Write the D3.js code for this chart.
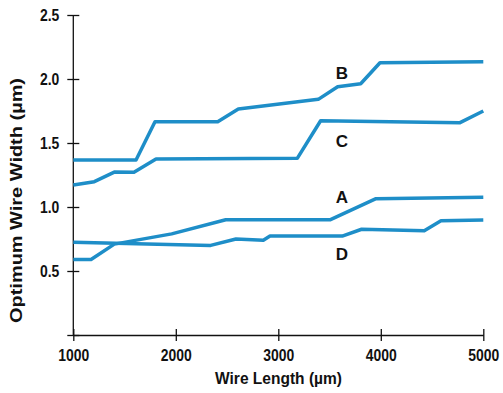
<!doctype html>
<html lang='en'>
<head>
    <meta charset='UTF-8'>
    <title>Optimum Wire Width</title>
    <style>
        body {
            margin: 0;
            background: #fff;
        }

        text {
            font-family: 'Liberation Sans', Arial, sans-serif;
            font-weight: bold;
            fill: #111;
        }

        .tick text {
            font-size: 16px;
        }

        .domain, .tick line {
            stroke: #111;
            stroke-width: 1.3;
        }

        .wire {
            fill: none;
            stroke: rgb(30, 142, 200);
            stroke-width: 3.5;
            stroke-linejoin: round;
        }
    </style>
</head>
<body>

<script src='https://d3js.org/d3.v7.min.js'></script>
<script>
  // wire length (um) and optimum width (um)
  const lengthA = [1000, 1173, 1400, 1960, 2487, 3504, 3953, 5000]
  const widthA  = [0.59, 0.59, 0.71, 0.79, 0.90, 0.90, 1.065, 1.076]

  const lengthB = [1000, 1612, 1797, 2409, 2610, 3390, 3579, 3804, 3992, 5000]
  const widthB  = [1.367, 1.367, 1.666, 1.666, 1.766, 1.841, 1.94, 1.963, 2.127, 2.135]

  const lengthC = [1000, 1205, 1400, 1592, 1807, 3185, 3413, 4773, 5000]
  const widthC  = [1.172, 1.198, 1.273, 1.271, 1.375, 1.38, 1.674, 1.659, 1.75]

  const lengthD = [1000, 2340, 2587, 2854, 2919, 3624, 3813, 4424, 4587, 5000]
  const widthD  = [0.724, 0.70, 0.75, 0.74, 0.773, 0.773, 0.826, 0.815, 0.893, 0.898]

  const seriesNames = ['A', 'B', 'C', 'D']
  // where each curve letter sits, in data units
  const labelX = [3620, 3620, 3620, 3620]
  const labelY = [1.08, 2.05, 1.518, 0.633]

  const xTicks = [1000, 2000, 3000, 4000, 5000]
  const yTicks = [0, 0.5, 1.0, 1.5, 2.0, 2.5]

  const w = 503, h = 393
  const narrow = 0.87 // the source type is a condensed face

  const lengths = [lengthA, lengthB, lengthC, lengthD]
  const widths = [widthA, widthB, widthC, widthD]
  const series = seriesNames.map((name, i) => lengths[i].map((x, j) => ({ x: x, y: widths[i][j] })))

  const xScale = d3.scaleLinear()
    .domain([1000, 5000])
    .range([73.3, 483.3])

  const yScale = d3.scaleLinear()
    .domain([0, 2.5])
    .range([335, 15])

  const svg = d3.select('body').append('svg')
    .attr('width', w)
    .attr('height', h)

  function squeeze(sel) {
    sel.each(function() {
      const len = this.getComputedTextLength()
      if (len > 0) {
        d3.select(this)
          .attr('textLength', len * narrow)
          .attr('lengthAdjust', 'spacingAndGlyphs')
      }
    })
  }

  //// Axis ////
  const xAxis = svg.append('g')
    .attr('transform', `translate(0, ${yScale(0)})`)
    .call(d3.axisBottom(xScale)
      .tickValues(xTicks)
      .tickFormat(d3.format('d'))
      .tickSizeOuter(0)
      .tickSizeInner(6)
      .tickPadding(9))

  xAxis.selectAll('.tick line').attr('y1', -6)
  xAxis.selectAll('.tick text').call(squeeze)

  const yAxis = svg.append('g')
    .attr('transform', `translate(${xScale(1000)}, 0)`)
    .call(d3.axisLeft(yScale)
      .tickValues(yTicks)
      .tickFormat(d => d === 0 ? '' : d3.format('.1f')(d))
      .tickSizeOuter(0)
      .tickSizeInner(6)
      .tickPadding(8))

  yAxis.selectAll('.tick line').attr('x1', 6)
  yAxis.selectAll('.tick text').call(squeeze)
  yAxis.select('.domain').attr('d', `M0,${yScale(2.5)}V${yScale(0) + 1}`)

  svg.append('text')
    .attr('x', 278.5)
    .attr('y', 384)
    .attr('text-anchor', 'middle')
    .attr('textLength', 127)
    .attr('lengthAdjust', 'spacingAndGlyphs')
    .style('font-size', '17px')
    .text('Wire Length (µm)')

  svg.append('text')
    .attr('transform', `translate(22, 200.5) rotate(-90)`)
    .attr('text-anchor', 'middle')
    .attr('textLength', 245)
    .attr('lengthAdjust', 'spacingAndGlyphs')
    .style('font-size', '17px')
    .text('Optimum Wire Width (µm)')

  //// Lines ////
  const line = d3.line()
    .x(d => xScale(d.x))
    .y(d => yScale(d.y))

  svg.append('g')
    .selectAll('path')
    .data(series)
    .enter()
    .append('path')
    .attr('class', 'wire')
    .attr('d', line)

  svg.append('g')
    .selectAll('text')
    .data(seriesNames)
    .enter()
    .append('text')
    .attr('x', (d, i) => xScale(labelX[i]))
    .attr('y', (d, i) => yScale(labelY[i]))
    .attr('dy', '0.36em')
    .attr('text-anchor', 'middle')
    .style('font-size', '17px')
    .text(d => d)
</script>
</body>
</html>
